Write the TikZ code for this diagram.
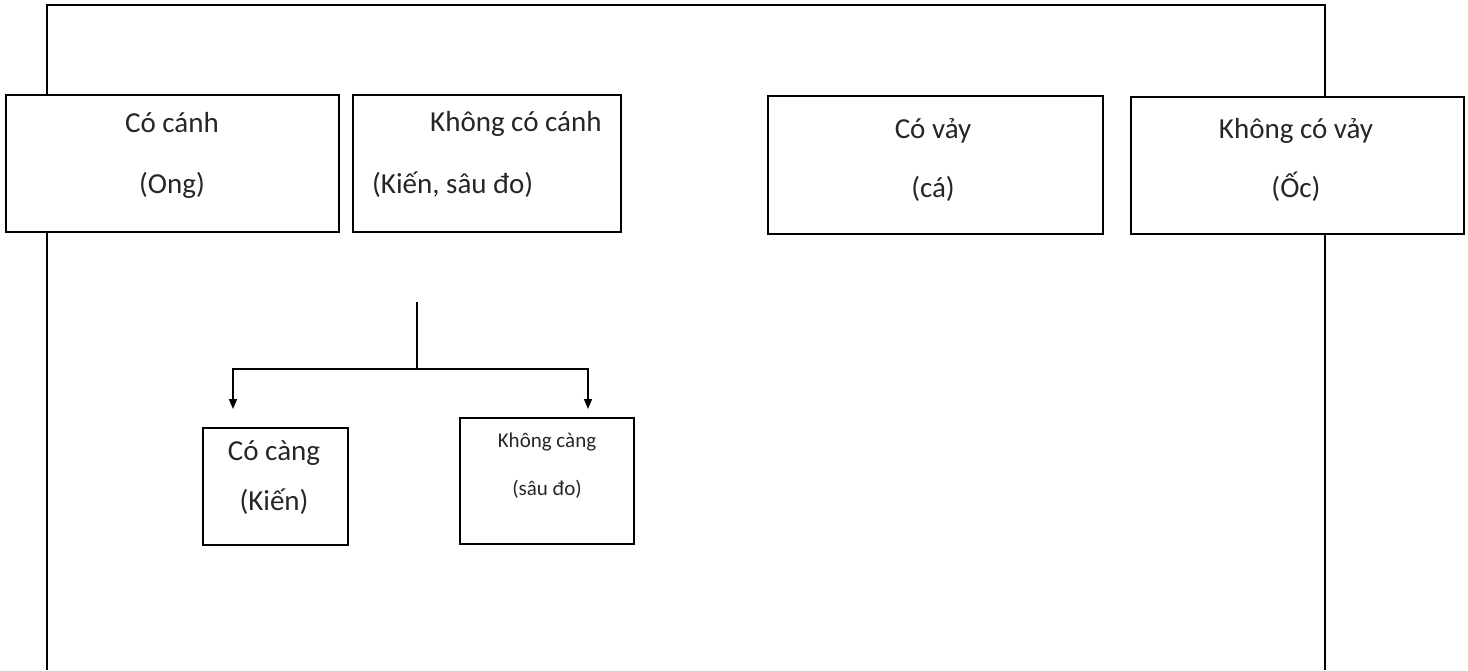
\documentclass[tikz,border=0pt]{standalone}
\usepackage{fontspec}
\setmainfont{Carlito}
\usetikzlibrary{arrows.meta}
\tikzset{
  box/.style={draw=black, line width=2pt, fill=white, anchor=north west, inner sep=0pt},
  bigtxt/.style={font=\fontsize{29}{35}\selectfont, inner sep=0pt, text=black!85},
  smalltxt/.style={font=\fontsize{21}{25}\selectfont, inner sep=0pt, text=black!85},
  frame/.style={line width=2.5pt},
  conn/.style={line width=1.5pt},
  arr/.style={conn, -{Triangle[length=10pt,width=8pt]}}
}
\begin{document}
\begin{tikzpicture}[x=1pt,y=-1pt]
\useasboundingbox (0,0) rectangle (1468,670);
% outer open frame
\draw[frame] (47,670) -- (47,5) -- (1325,5) -- (1325,670);
% top boxes
\node[box, minimum width=333pt, minimum height=137pt] (b1) at (5,94) {};
\node[box, minimum width=268pt, minimum height=137pt] (b2) at (352,94) {};
\node[box, minimum width=335pt, minimum height=138pt] (b3) at (767,95) {};
\node[box, minimum width=333pt, minimum height=137pt] (b4) at (1130,96) {};
% texts in top boxes
\node[bigtxt, anchor=base] (t1a) at (172,132) {Có cánh};
\node[bigtxt, anchor=base] (t1b) at (172,193) {(Ong)};
\node[bigtxt, anchor=base west] (t2a) at (430,131) {Không có cánh};
\node[bigtxt, anchor=base west] (t2b) at (372,193) {(Kiến, sâu đo)};
\node[bigtxt, anchor=base] (t3a) at (933,138) {Có vảy};
\node[bigtxt, anchor=base] (t3b) at (933,197) {(cá)};
\node[bigtxt, anchor=base] (t4a) at (1296,138) {Không có vảy};
\node[bigtxt, anchor=base] (t4b) at (1296,197) {(Ốc)};
% lower boxes
\node[box, minimum width=145pt, minimum height=117pt] (c1) at (202,427) {};
\node[box, minimum width=174pt, minimum height=126pt] (c2) at (459,417) {};
\node[bigtxt, anchor=base] (s1a) at (274,460) {Có càng};
\node[bigtxt, anchor=base] (s1b) at (274,510) {(Kiến)};
\node[smalltxt, anchor=base] (s2a) at (547,447) {Không càng};
\node[smalltxt, anchor=base] (s2b) at (547,495) {(sâu đo)};
% connectors
\coordinate (top) at (417,302);
\coordinate (junc) at (417,369);
\coordinate (la) at (233,409);
\coordinate (ra) at (588,409);
\draw[conn] (top) -- (junc);
\draw[arr] (junc) -| (la);
\draw[arr] (junc) -| (ra);
\end{tikzpicture}
\end{document}
